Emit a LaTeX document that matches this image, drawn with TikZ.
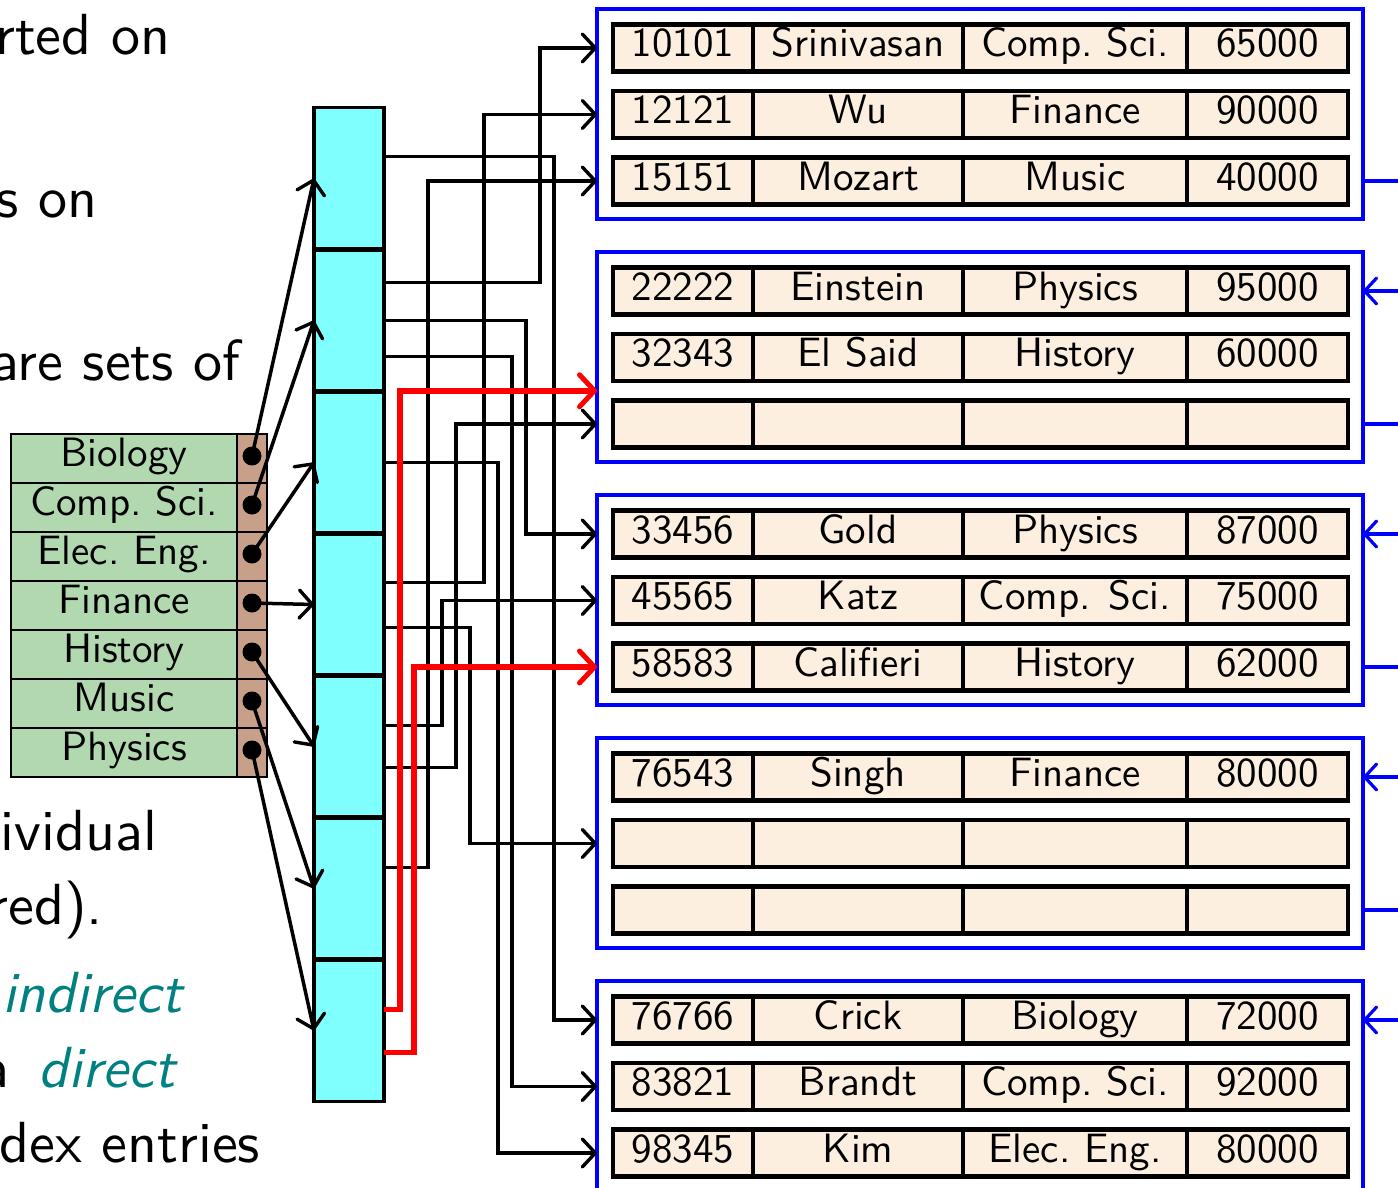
\documentclass[tikz,border=0pt]{standalone}
\usepackage{graphicx}
\usetikzlibrary{arrows.meta,calc}
\definecolor{idxgreen}{RGB}{178,216,176}
\definecolor{idxbrown}{RGB}{200,160,138}
\definecolor{bucketcyan}{RGB}{128,255,255}
\definecolor{reccol}{RGB}{253,239,224}
\definecolor{chainblue}{RGB}{0,0,255}
\definecolor{slideteal}{RGB}{0,128,128}
\newcommand\rectxt[1]{\scalebox{4.1}{#1}}
\newcommand\slidetxt[1]{\scalebox{5.8}{#1}}
\newcommand\recrow[6]{%
  \node[rc, minimum width=140pt] (#1a) at (683,#2) {\rectxt{#3}};
  \node[rc, minimum width=210pt] (#1b) at (858,#2) {\rectxt{#4}};
  \node[rc, minimum width=224pt] (#1c) at (1075,#2) {\rectxt{#5}};
  \node[rc, minimum width=161pt] (#1d) at (1267.5,#2) {\rectxt{#6}};
}
\tikzset{
  basefont/.style={font=\sffamily\fontsize{10}{12}\selectfont},
  idxcell/.style={basefont, draw=black, line width=1.8pt, fill=idxgreen, minimum width=226pt, minimum height=49pt, inner sep=0pt, outer sep=0pt, text height=25pt, text depth=10pt},
  ptrcell/.style={draw=black, line width=1.8pt, fill=idxbrown, minimum width=30pt, minimum height=49pt, inner sep=0pt, outer sep=0pt},
  ptrdot/.style={circle, fill=black, minimum size=19pt, inner sep=0pt, outer sep=0pt},
  bcell/.style={draw=black, line width=3.5pt, fill=bucketcyan, minimum width=70pt, minimum height=142pt, inner sep=0pt, outer sep=0pt},
  blk/.style={draw=chainblue, line width=3.8pt, minimum width=766pt, minimum height=210pt, inner sep=0pt, outer sep=0pt},
  rc/.style={basefont, draw=black, line width=4.2pt, fill=reccol, minimum height=47pt, inner sep=0pt, outer sep=0pt, text height=28pt, text depth=10pt},
  tip/.style={-{Straight Barb[length=13pt,width=28pt,line width=3.4pt,round]}},
  iptr/.style={line width=3.5pt, tip},
  bptr/.style={line width=3.5pt, tip},
  rptr/.style={line width=5.5pt, red, -{Straight Barb[length=15pt,width=32pt,line width=5pt,round]}},
  chainline/.style={line width=3.4pt, chainblue},
  chainarrow/.style={line width=3.4pt, chainblue, -{Straight Barb[length=12pt,width=26pt,line width=3.2pt,round]}},
  slide/.style={basefont, inner sep=0pt, outer sep=0pt, anchor=base east}
}
\begin{document}
\begin{tikzpicture}[x=1pt,y=-1pt]
\useasboundingbox (0,0) rectangle (1398,1188);
\clip (0,0) rectangle (1398,1188);

% slide text (clipped at the left edge)
\node[slide] (t1) at (170,55) {\slidetxt{rted on}};
\node[slide] (t2) at (97,218) {\slidetxt{s on}};
\node[slide] (t3) at (240,380) {\slidetxt{are sets of}};
\node[slide] (t4) at (157,850) {\slidetxt{ividual}};
\node[slide] (t5) at (103,924) {\slidetxt{red).}};
\node[slide, text=slideteal] (t6) at (182,1012) {\slidetxt{\itshape indirect}};
\node[slide] (t7a) at (9,1087) {\slidetxt{a}};
\node[slide, text=slideteal] (t7b) at (175,1087) {\slidetxt{\itshape direct}};
\node[slide] (t8) at (260,1162) {\slidetxt{dex entries}};

% record blocks
\foreach \k in {0,...,4} \node[blk] (blk\k) at (980,114+243*\k) {};

\recrow{r00}{48}{10101}{Srinivasan}{Comp.\ Sci.}{65000}
\recrow{r01}{114.5}{12121}{Wu}{Finance}{90000}
\recrow{r02}{181}{15151}{Mozart}{Music}{40000}
\recrow{r10}{291}{22222}{Einstein}{Physics}{95000}
\recrow{r11}{357.5}{32343}{El Said}{History}{60000}
\recrow{r12}{424}{}{}{}{}
\recrow{r20}{534}{33456}{Gold}{Physics}{87000}
\recrow{r21}{600.5}{45565}{Katz}{Comp. Sci.}{75000}
\recrow{r22}{667}{58583}{Califieri}{History}{62000}
\recrow{r30}{777}{76543}{Singh}{Finance}{80000}
\recrow{r31}{843.5}{}{}{}{}
\recrow{r32}{910}{}{}{}{}
\recrow{r40}{1020}{76766}{Crick}{Biology}{72000}
\recrow{r41}{1086.5}{83821}{Brandt}{Comp.\ Sci.}{92000}
\recrow{r42}{1153}{98345}{Kim}{Elec.\ Eng.}{80000}

% chain pointers between blocks (leaving the picture on the right)
\coordinate (o0) at ($(blk0.east |- r02d.center)+(80,0)$);
\coordinate (o1) at ($(blk1.east |- r12d.center)+(80,0)$);
\coordinate (o2) at ($(blk2.east |- r22d.center)+(80,0)$);
\coordinate (o3) at ($(blk3.east |- r32d.center)+(80,0)$);
\draw[chainline] (blk0.east |- r02d.center) -- (o0);
\draw[chainline] (blk1.east |- r12d.center) -- (o1);
\draw[chainline] (blk2.east |- r22d.center) -- (o2);
\draw[chainline] (blk3.east |- r32d.center) -- (o3);
\coordinate (i1) at ($(blk1.east |- r10d.center)+(80,0)$);
\coordinate (i2) at ($(blk2.east |- r20d.center)+(80,0)$);
\coordinate (i3) at ($(blk3.east |- r30d.center)+(80,0)$);
\coordinate (i4) at ($(blk4.east |- r40d.center)+(80,0)$);
\draw[chainarrow] (i1) -- (blk1.east |- r10d.center);
\draw[chainarrow] (i2) -- (blk2.east |- r20d.center);
\draw[chainarrow] (i3) -- (blk3.east |- r30d.center);
\draw[chainarrow] (i4) -- (blk4.east |- r40d.center);

% bucket column
\foreach \i in {0,...,6} \node[bcell] (b\i) at (349,178.5+142*\i) {};
\foreach \i in {1,...,6} \draw[line width=5.5pt] (b\i.north west) -- (b\i.north east);

% index
\foreach \t [count=\i from 0] in {Biology,Comp.\ Sci.,Elec.\ Eng.,Finance,History,Music,Physics}{
  \node[idxcell] (idx\i) at (124,458.5+49*\i) {\rectxt{\t}};
  \node[ptrcell] (ptr\i) at (252,458.5+49*\i) {};
  \node[ptrdot] (dot\i) at (252,456+49*\i) {};
}
\foreach \i in {0,...,6} \draw[iptr] (dot\i.center) -- (b\i.west);

% start points on the bucket's right edge
\coordinate (c1) at ($(b0.north east)+(0,49)$);
\coordinate (c2) at ($(b1.north east)+(0,33)$);
\coordinate (c3) at ($(b1.north east)+(0,71)$);
\coordinate (c4) at ($(b1.north east)+(0,107)$);
\coordinate (c5) at ($(b2.north east)+(0,71)$);
\coordinate (c6) at ($(b3.north east)+(0,49)$);
\coordinate (c7) at ($(b3.north east)+(0,94)$);
\coordinate (c8) at ($(b4.north east)+(0,50)$);
\coordinate (c9) at ($(b4.north east)+(0,92)$);
\coordinate (c10) at ($(b5.north east)+(0,50)$);
\coordinate (c11) at ($(b6.north east)+(0,50)$);
\coordinate (c12) at ($(b6.north east)+(0,93)$);
% vertical lanes
\coordinate (v0) at (400,0);
\coordinate (v1) at (414,0);
\coordinate (v2) at (428,0);
\coordinate (v3) at (442,0);
\coordinate (v4) at (456,0);
\coordinate (v5) at (470,0);
\coordinate (v6) at (484,0);
\coordinate (v7) at (498,0);
\coordinate (v8) at (512,0);
\coordinate (v9) at (526,0);
\coordinate (v10) at (540,0);
\coordinate (v11) at (554,0);
\coordinate (gap1) at ($(r11a.center)!0.5!(r12a.center)$);

\draw[bptr] (c1) -- (c1 -| v11) |- (blk4.west |- r40a.center);
\draw[bptr] (c2) -- (c2 -| v10) |- (blk0.west |- r00a.center);
\draw[bptr] (c3) -- (c3 -| v9) |- (blk2.west |- r20a.center);
\draw[bptr] (c4) -- (c4 -| v8) |- (blk4.west |- r41a.center);
\draw[bptr] (c5) -- (c5 -| v7) |- (blk4.west |- r42a.center);
\draw[bptr] (c6) -- (c6 -| v6) |- (blk0.west |- r01a.center);
\draw[bptr] (c7) -- (c7 -| v5) |- (blk3.west |- r31a.center);
\draw[bptr] (c8) -- (c8 -| v3) |- (blk2.west |- r21a.center);
\draw[bptr] (c9) -- (c9 -| v4) |- (blk1.west |- r12a.center);
\draw[bptr] (c10) -- (c10 -| v2) |- (blk0.west |- r02a.center);
\draw[rptr] (c11) -- (c11 -| v0) |- (blk1.west |- gap1);
\draw[rptr] (c12) -- (c12 -| v1) |- (blk2.west |- r22a.center);
\end{tikzpicture}
\end{document}
